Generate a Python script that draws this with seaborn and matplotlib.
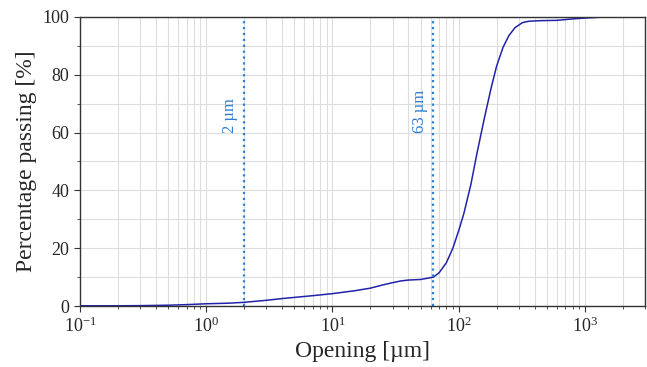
import numpy as np
import pandas as pd
import matplotlib
matplotlib.use("Agg")
import matplotlib.pyplot as plt
import seaborn as sns
from matplotlib.ticker import LogLocator, MultipleLocator

# Data
opening_um = [0.1, 0.2, 0.3, 0.5, 0.7, 1, 1.5, 2, 3, 4, 5, 7, 10, 15, 20, 25, 30, 35,
              40, 50, 63, 70, 80, 90, 100, 110, 125, 140, 160, 180, 200, 225, 250,
              280, 320, 360, 450, 600, 800, 1000, 1500, 3000]
passing_pct = [0.1, 0.1, 0.15, 0.3, 0.5, 0.8, 1.0, 1.3, 2.0, 2.6, 3.0, 3.6, 4.3, 5.3,
               6.2, 7.3, 8.1, 8.7, 9.0, 9.2, 10.0, 11.5, 15.0, 20.0, 26.0, 32.0, 42.0,
               53.0, 65.0, 75.0, 83.0, 89.5, 93.5, 96.3, 98.0, 98.5, 98.7, 98.8,
               99.3, 99.6, 100.0, 100.0]
ref_sizes = [2, 63]
ref_labels = ["2 µm", "63 µm"]

sns.set_style("ticks")
plt.rcParams["font.family"] = ["Liberation Serif", "DejaVu Serif"]
plt.rcParams["mathtext.fontset"] = "stix"

fig = plt.figure(figsize=(6.47, 3.67), dpi=100)
ax = fig.add_axes([0.1236, 0.166, 0.8734, 0.788])

df = pd.DataFrame({"opening": opening_um, "passing": passing_pct})
sns.lineplot(data=df, x="opening", y="passing", ax=ax, color="#2222aa", lw=1.1)

ax.set_xscale("log")
ax.set_xlim(0.1, 3000)
ax.set_ylim(0, 100)

vcol = "#2f7fd2"
for s, lab in zip(ref_sizes, ref_labels):
    ax.axvline(s, color=vcol, ls=":", lw=1.6)
    ax.text(s * 0.90, 60, lab, rotation=90, color=vcol, fontsize=12,
            ha="right", va="bottom")

ax.xaxis.set_major_locator(LogLocator(base=10, numticks=10))
ax.xaxis.set_minor_locator(LogLocator(base=10, subs=np.arange(2, 10), numticks=20))
ax.yaxis.set_major_locator(MultipleLocator(20))
ax.yaxis.set_minor_locator(MultipleLocator(10))
ax.grid(True, which="both", color="#dddddd", lw=0.8)
ax.set_axisbelow(True)

for sp in ax.spines.values():
    sp.set_visible(True)
    sp.set_color("#333333")
    sp.set_linewidth(1.0)

ax.tick_params(axis="both", which="major", labelsize=13, length=4, width=0.8, color="#333333")
ax.tick_params(axis="both", which="minor", length=2.5, width=0.6, color="#333333")

ax.set_xlabel("Opening [µm]", fontsize=17)
ax.set_ylabel("Percentage passing [%]", fontsize=17)

fig.savefig("out.png", dpi=100)
